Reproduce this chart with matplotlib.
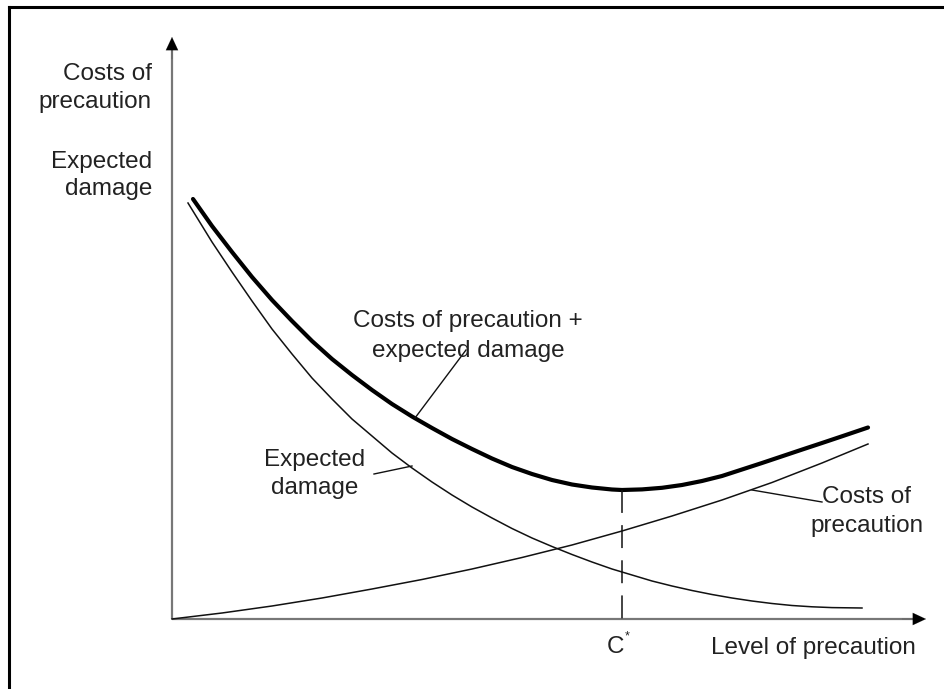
import matplotlib.pyplot as plt
from matplotlib.lines import Line2D

plt.rcParams['font.family'] = ['Liberation Sans', 'DejaVu Sans']

# curves (level of precaution, cost)
damage_level = [16, 40, 60, 80, 100, 120, 140, 160, 180, 200, 220, 240, 260, 280, 300, 320,
                340, 360, 380, 400, 420, 440, 460, 480, 500, 520, 540, 560, 580, 600, 620,
                640, 660, 690]
damage_cost = [416, 377, 347, 318, 290, 265, 241, 220, 200, 183, 166, 151, 137, 124, 112, 101,
               90.5, 81, 72.5, 64.5, 57, 50, 44, 38, 33, 28.5, 24.5, 21, 18, 15.5, 13.5,
               12.2, 11.4, 11]

prec_level = [0, 50, 100, 150, 200, 250, 300, 350, 400, 450, 500, 550, 600, 650, 696]
prec_cost = [0, 6, 13, 21, 30, 39.5, 50, 61.5, 74, 88, 103, 119, 136.5, 156, 175]

total_level = [21, 40, 60, 80, 100, 120, 140, 160, 180, 200, 220, 240, 260, 280, 300, 320,
               340, 360, 380, 400, 420, 440, 450, 470, 490, 510, 530, 550, 570, 590, 610,
               630, 650, 670, 696]
total_cost = [420, 393, 367, 342, 319, 298, 278, 260, 244, 229, 215, 202.5, 191, 180, 170,
              160.5, 152, 145, 139, 134.5, 131.5, 129.5, 129, 129.6, 131.2, 134, 138, 143,
              149.5, 156, 162.7, 169.4, 176, 182.7, 191.5]

c_star = 450
y_labels = ['Costs of', 'precaution', 'Expected', 'damage']
x_label = 'Level of precaution'

txt = '#222222'
fs = 17.5

fig = plt.figure(figsize=(9.44, 6.89), dpi=100)
ax = fig.add_axes([0, 0, 1, 1])
ax.set_xlim(-172, 772)
ax.set_ylim(-70, 619)
ax.axis('off')

# frame (top and left edges only)
fig.add_artist(Line2D([9 / 944, 1], [1 - 7 / 689, 1 - 7 / 689], color='black', lw=2.2))
fig.add_artist(Line2D([9 / 944, 9 / 944], [0, 1 - 7 / 689], color='black', lw=2.2))

# axes with arrow heads
ax.plot([0, 0], [0, 575], color='#777777', lw=1.6, solid_capstyle='butt')
ax.plot([0, 745], [0, 0], color='#777777', lw=1.6, solid_capstyle='butt')
head = dict(arrowstyle='-|>,head_length=0.47,head_width=0.22', color='black',
            lw=0.1, mutation_scale=20, shrinkA=0, shrinkB=0)
ax.annotate('', xy=(0, 582), xytext=(0, 560), arrowprops=head)
ax.annotate('', xy=(754, 0), xytext=(730, 0), arrowprops=head)

# curves
ax.plot(damage_level, damage_cost, color='#111111', lw=1.1)
ax.plot(prec_level, prec_cost, color='#111111', lw=1.1)
ax.plot(total_level, total_cost, color='black', lw=3, solid_capstyle='round')

# optimum
ax.plot([c_star, c_star], [129, -6], color='#111111', lw=1.1, linestyle=(0, (15, 8)))

# leader lines
ax.plot([243, 294], [201, 269], color='#111111', lw=1)
ax.plot([202, 240], [145, 153], color='#111111', lw=1)
ax.plot([580, 650], [129, 117], color='#111111', lw=1)

# y axis labels
for label, yb in zip(y_labels, [539, 511, 451, 424]):
    ax.text(-20, yb, label, ha='right', va='baseline', fontsize=fs, color=txt)

ax.text(296, 292, 'Costs of precaution +', ha='center', va='baseline', fontsize=fs, color=txt)
ax.text(296, 262, 'expected damage', ha='center', va='baseline', fontsize=fs, color=txt)
ax.text(143, 153, 'Expected', ha='center', va='baseline', fontsize=fs, color=txt)
ax.text(143, 125, 'damage', ha='center', va='baseline', fontsize=fs, color=txt)
ax.text(695, 116, 'Costs of', ha='center', va='baseline', fontsize=fs, color=txt)
ax.text(695, 87, 'precaution', ha='center', va='baseline', fontsize=fs, color=txt)

ax.text(c_star - 6, -34, 'C', ha='center', va='baseline', fontsize=fs, color=txt)
ax.text(c_star + 5, -20, '*', ha='center', va='baseline', fontsize=9, color=txt)
ax.text(641, -35, x_label, ha='center', va='baseline', fontsize=fs, color=txt)

fig.savefig('out.png', dpi=100)
